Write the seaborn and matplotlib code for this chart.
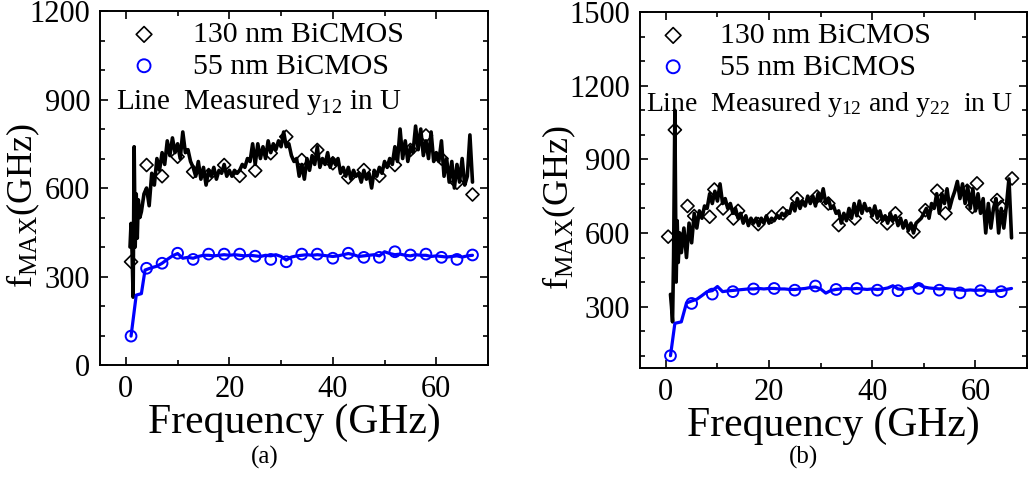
import numpy as np
import matplotlib.pyplot as plt
from matplotlib.ticker import MultipleLocator
import seaborn as sns

# ---------------- data ----------------
# (a) measured y12 in U -- dense line, start of sweep then 0.5 GHz grid
a_black_x0 = [0.8, 1.0, 1.2, 1.4, 1.6, 1.8, 2.0, 2.2, 2.4, 2.7]
a_black_y0 = [400, 480, 380, 230, 740, 400, 580, 430, 560, 500]
a_black_y = [520, 580, 600, 540, 650, 610, 700, 660, 720, 680,
             760, 710, 770, 720, 750, 700, 790, 720, 730, 690,
             670, 640, 690, 630, 670, 610, 660, 640, 670, 630,
             660, 650, 680, 640, 660, 640, 660, 650, 660, 680,
             670, 700, 690, 750, 680, 750, 700, 740, 700, 760,
             720, 750, 730, 760, 740, 790, 740, 750, 710, 690,
             700, 640, 680, 630, 700, 660, 710, 680, 740, 670,
             700, 680, 720, 670, 700, 680, 700, 650, 670, 640,
             670, 630, 660, 640, 650, 620, 660, 630, 650, 600,
             660, 640, 670, 650, 690, 670, 700, 680, 740, 690,
             800, 700, 760, 690, 740, 720, 810, 730, 800, 710,
             760, 700, 790, 690, 720, 690, 760, 640, 700, 620,
             690, 600, 680, 620, 700, 610, 640, 780, 620]
a_blue_x0 = [1.0, 2.0, 3.0, 3.7]
a_blue_y0 = [98, 237, 242, 322]
a_blue_y = [330, 335, 345, 358, 370, 378, 362, 365, 362, 368,
            372, 372, 370, 372, 374, 372, 374, 372, 370, 372,
            370, 368, 372, 370, 374, 368, 356, 366, 370, 372,
            374, 372, 374, 372, 370, 368, 370, 374, 378, 374,
            368, 370, 372, 374, 370, 384, 378, 374, 376, 372,
            370, 374, 372, 372, 368, 370, 368, 366, 368, 370,
            366, 370, 372]
a_dia_x = [1, 4, 7, 10, 13, 16, 19, 22, 25, 28, 31, 34, 37, 40, 43, 46, 49, 52, 55, 58, 61, 64, 67]
a_dia_y = [350, 678, 640, 706, 655, 644, 678, 641, 659, 718, 774, 695, 729, 684, 636, 661, 641, 678,
           729, 778, 700, 618, 578]
a_cir_x = a_dia_x
a_cir_y = [98, 328, 345, 379, 358, 376, 376, 376, 369, 358, 350, 376, 376, 362, 379, 365, 365, 384,
           373, 376, 365, 358, 373]

# (b) measured y12 and y22 in U
b_black_x0 = [0.9, 1.1, 1.3, 1.5, 1.75, 2.0, 2.2, 2.4, 2.7]
b_black_y0 = [350, 300, 238, 500, 1100, 400, 650, 480, 600]
b_black_y = [520, 620, 500, 640, 560, 680, 620, 690, 660, 710,
             700, 760, 720, 770, 730, 800, 720, 740, 700, 720,
             680, 700, 660, 680, 640, 670, 630, 660, 640, 660,
             630, 660, 640, 670, 640, 660, 650, 670, 660, 680,
             670, 690, 680, 720, 690, 740, 700, 730, 710, 750,
             720, 750, 710, 760, 730, 780, 720, 740, 700, 710,
             680, 690, 640, 680, 650, 700, 660, 720, 670, 730,
             680, 720, 690, 700, 670, 710, 660, 690, 650, 670,
             640, 680, 650, 670, 630, 660, 620, 650, 610, 640,
             600, 640, 650, 660, 680, 700, 660, 720, 700, 760,
             680, 760, 720, 780, 700, 740, 770, 810, 740, 800,
             720, 790, 700, 780, 690, 760, 680, 740, 600, 720,
             620, 700, 740, 600, 700, 620, 710, 820, 580]
b_blue_x0 = [0.9, 1.75, 3.0, 4.0]
b_blue_y0 = [100, 232, 238, 315]
b_blue_y = [323, 330, 345, 361, 365, 382, 361, 364, 366, 368,
            370, 372, 372, 374, 372, 374, 374, 372, 372, 370,
            370, 372, 374, 378, 380, 372, 355, 366, 370, 372,
            374, 372, 374, 372, 370, 372, 370, 372, 376, 385,
            372, 370, 374, 378, 391, 380, 376, 374, 372, 374,
            372, 370, 368, 366, 368, 366, 368, 366, 362, 364,
            366, 370, 374]
b_dia_x = [0.45, 1.75, 4.2, 5.5, 8.5, 9.4, 11.1, 13.1, 14.0, 17.9, 20.5, 22.7, 25.4, 29.3, 31.5,
           33.5, 36.6, 40.9, 42.9, 44.5, 48.0, 50.3, 52.6, 54.2, 58.4, 59.4, 60.3, 64.2, 65.0, 67.1]
b_dia_y = [585, 1020, 710, 669, 666, 777, 700, 659, 690, 636, 666, 680, 741, 748, 720,
           632, 659, 666, 639, 680, 605, 693, 772, 680, 772, 706, 802, 734, 706, 822]
b_cir_x = [0.9, 5, 9, 13, 17, 21, 25, 29, 33, 37, 41, 45, 49, 53, 57, 61, 65]
b_cir_y = [100, 313, 351, 361, 372, 374, 367, 384, 370, 374, 367, 365, 374, 367, 356, 365, 361]

labels = ['130 nm BiCMOS', '55 nm BiCMOS']

# frequency grids of the measured sweeps
grid_black = np.arange(3.0, 67.01, 0.5)
grid_blue = np.arange(5.0, 67.01, 1.0)

sns.set_style("ticks")
plt.rcParams['font.family'] = ['Liberation Serif', 'DejaVu Serif']
plt.rcParams['mathtext.fontset'] = 'custom'
plt.rcParams['mathtext.rm'] = 'Liberation Serif'
plt.rcParams['mathtext.it'] = 'Liberation Serif:italic'
plt.rcParams['axes.edgecolor'] = 'black'
plt.rcParams['xtick.color'] = 'black'
plt.rcParams['ytick.color'] = 'black'
plt.rcParams['text.color'] = 'black'
plt.rcParams['axes.labelcolor'] = 'black'

fig = plt.figure(figsize=(10.3, 4.82), dpi=100)
ax_a = fig.add_axes([0.0971, 0.2427, 0.3767, 0.7344])
ax_b = fig.add_axes([0.6214, 0.2365, 0.3757, 0.7386])


def draw_panel(ax, bx0, by0, by, ux0, uy0, uy, dx, dy, cx, cy):
    sns.scatterplot(x=dx, y=dy, ax=ax, marker='D', s=44, facecolors='none',
                    edgecolor='black', linewidth=1.2, label=labels[0], zorder=2)
    sns.scatterplot(x=cx, y=cy, ax=ax, marker='o', s=60, facecolors='none',
                    edgecolor='blue', linewidth=1.4, label=labels[1], zorder=2)
    sns.lineplot(x=np.r_[bx0, grid_black], y=np.r_[by0, by], ax=ax, color='black',
                 lw=2.6, estimator=None, sort=False, zorder=3)
    sns.lineplot(x=np.r_[ux0, grid_blue], y=np.r_[uy0, uy], ax=ax, color='blue',
                 lw=2.3, estimator=None, sort=False, zorder=3)


def style_axes(ax, ylim):
    ax.set_xlim(-5, 70)
    ax.set_ylim(*ylim)
    ax.xaxis.set_major_locator(MultipleLocator(20))
    ax.xaxis.set_minor_locator(MultipleLocator(10))
    ax.yaxis.set_major_locator(MultipleLocator(300))
    ax.yaxis.set_minor_locator(MultipleLocator(100))
    ax.tick_params(which='both', direction='in', top=True, right=True, width=1.2,
                   labelsize=22, pad=7)
    ax.tick_params(which='major', length=6)
    ax.tick_params(which='minor', length=3.5)
    for sp in ax.spines.values():
        sp.set_linewidth(1.4)
    ax.set_xlabel('Frequency (GHz)', fontsize=30, labelpad=0)
    ax.set_ylabel(r'f$_{\mathrm{MAX}}$(GHz)', fontsize=26)


draw_panel(ax_a, a_black_x0, a_black_y0, a_black_y, a_blue_x0, a_blue_y0, a_blue_y,
           a_dia_x, a_dia_y, a_cir_x, a_cir_y)
draw_panel(ax_b, b_black_x0, b_black_y0, b_black_y, b_blue_x0, b_blue_y0, b_blue_y,
           b_dia_x, b_dia_y, b_cir_x, b_cir_y)

style_axes(ax_a, (0, 1200))
style_axes(ax_b, (50, 1500))
ax_a.yaxis.set_label_coords(-0.15, 0.45)
ax_b.yaxis.set_label_coords(-0.16, 0.45)

panel_text = [(ax_a, 0.075, 1.14, 0.041, 21, 'Line  Measured y$_{12}$ in U'),
              (ax_b, 0.047, 1.07, 0.016, 20, 'Line  Measured y$_{12}$ and y$_{22}$  in U')]
for ax, bx, pad, tx, fs, txt in panel_text:
    handles = ax.collections[:2]
    ax.legend(handles, labels, loc='upper left', bbox_to_anchor=(bx, 0.971), frameon=False,
              fontsize=21.5, handlelength=1.0, handletextpad=pad, borderpad=0,
              borderaxespad=0, labelspacing=0.15, scatterpoints=1, markerscale=1.2)
    ax.text(tx, 0.722, txt, transform=ax.transAxes, fontsize=fs, va='baseline')

fig.text(265 / 1030, 1 - 457 / 482, '(a)', ha='center', va='center', fontsize=18)
fig.text(804 / 1030, 1 - 457 / 482, '(b)', ha='center', va='center', fontsize=18)

fig.savefig('out.png', dpi=100)
